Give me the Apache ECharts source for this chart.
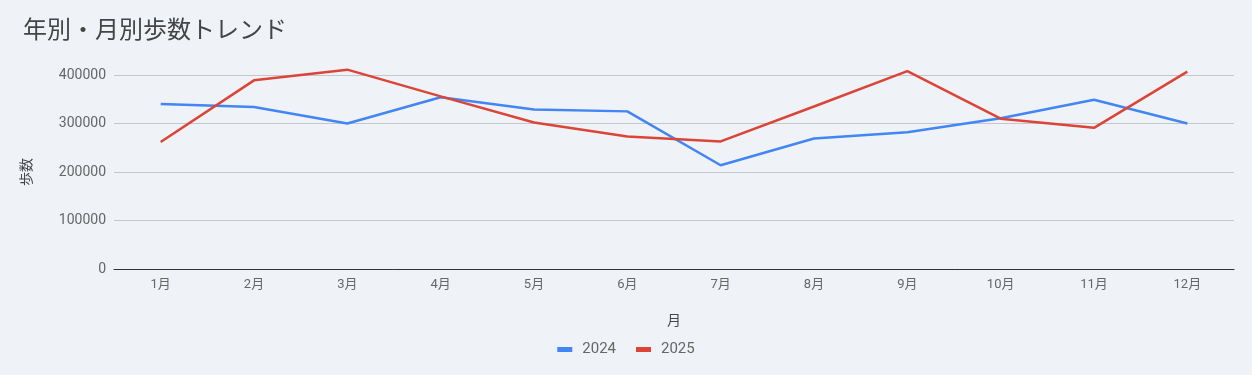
<!DOCTYPE html>
<html><head><meta charset="utf-8">
<script src="https://cdn.jsdelivr.net/npm/echarts@6/dist/echarts.min.js"></script>
<style>html,body{margin:0;padding:0;background:#eff3f8;}#c{width:1252px;height:375px;}</style>
</head><body><div id="c"></div>
<script>
const months = ['1月','2月','3月','4月','5月','6月','7月','8月','9月','10月','11月','12月'];
const steps2024 = [340000,334000,300000,354000,329000,325000,214000,269000,282000,311000,349000,300000];
const steps2025 = [262000,389000,411000,356000,302000,273000,263000,335000,408000,310000,291000,407000];
const seriesNames = ['2024','2025'];
const colors = ['#4285F4','#DB4437'];
const font = 'Roboto, "Noto Sans CJK JP", sans-serif';
const chart = echarts.init(document.getElementById('c'));
chart.setOption({
  backgroundColor:'#eff3f8',
  animation:false,
  color:colors,
  title:{text:'年別・月別歩数トレンド',left:18,top:15,textStyle:{fontFamily:font,fontSize:24,fontWeight:'normal',color:'#444'}},
  grid:{left:114,right:18,top:75,bottom:106,containLabel:false},
  legend:{bottom:13,left:'center',itemWidth:15,itemHeight:5,itemGap:20,icon:'rect',
    textStyle:{fontFamily:font,fontSize:15,color:'#666',padding:[0,0,0,5]},data:seriesNames},
  xAxis:{type:'category',data:months,boundaryGap:true,name:'月',nameLocation:'middle',nameGap:46,
    nameTextStyle:{fontFamily:font,fontSize:14,color:'#444'},
    axisLine:{lineStyle:{color:'#333',width:1}},axisTick:{show:false},
    axisLabel:{fontFamily:font,fontSize:13,color:'#666',margin:9}},
  yAxis:{type:'value',min:0,max:400000,interval:100000,name:'歩数',nameLocation:'middle',nameGap:80,
    nameTextStyle:{fontFamily:font,fontSize:14,color:'#444'},
    axisLine:{show:false},axisTick:{show:false},
    splitLine:{lineStyle:{color:'#c4c7cc',width:1}},
    axisLabel:{fontFamily:font,fontSize:14,color:'#666',margin:8,formatter:v=>String(v)}},
  series:[
    {name:seriesNames[0],type:'line',data:steps2024,symbol:'none',clip:false,lineStyle:{width:2.5}},
    {name:seriesNames[1],type:'line',data:steps2025,symbol:'none',clip:false,lineStyle:{width:2.5}}
  ]
});
</script></body></html>
